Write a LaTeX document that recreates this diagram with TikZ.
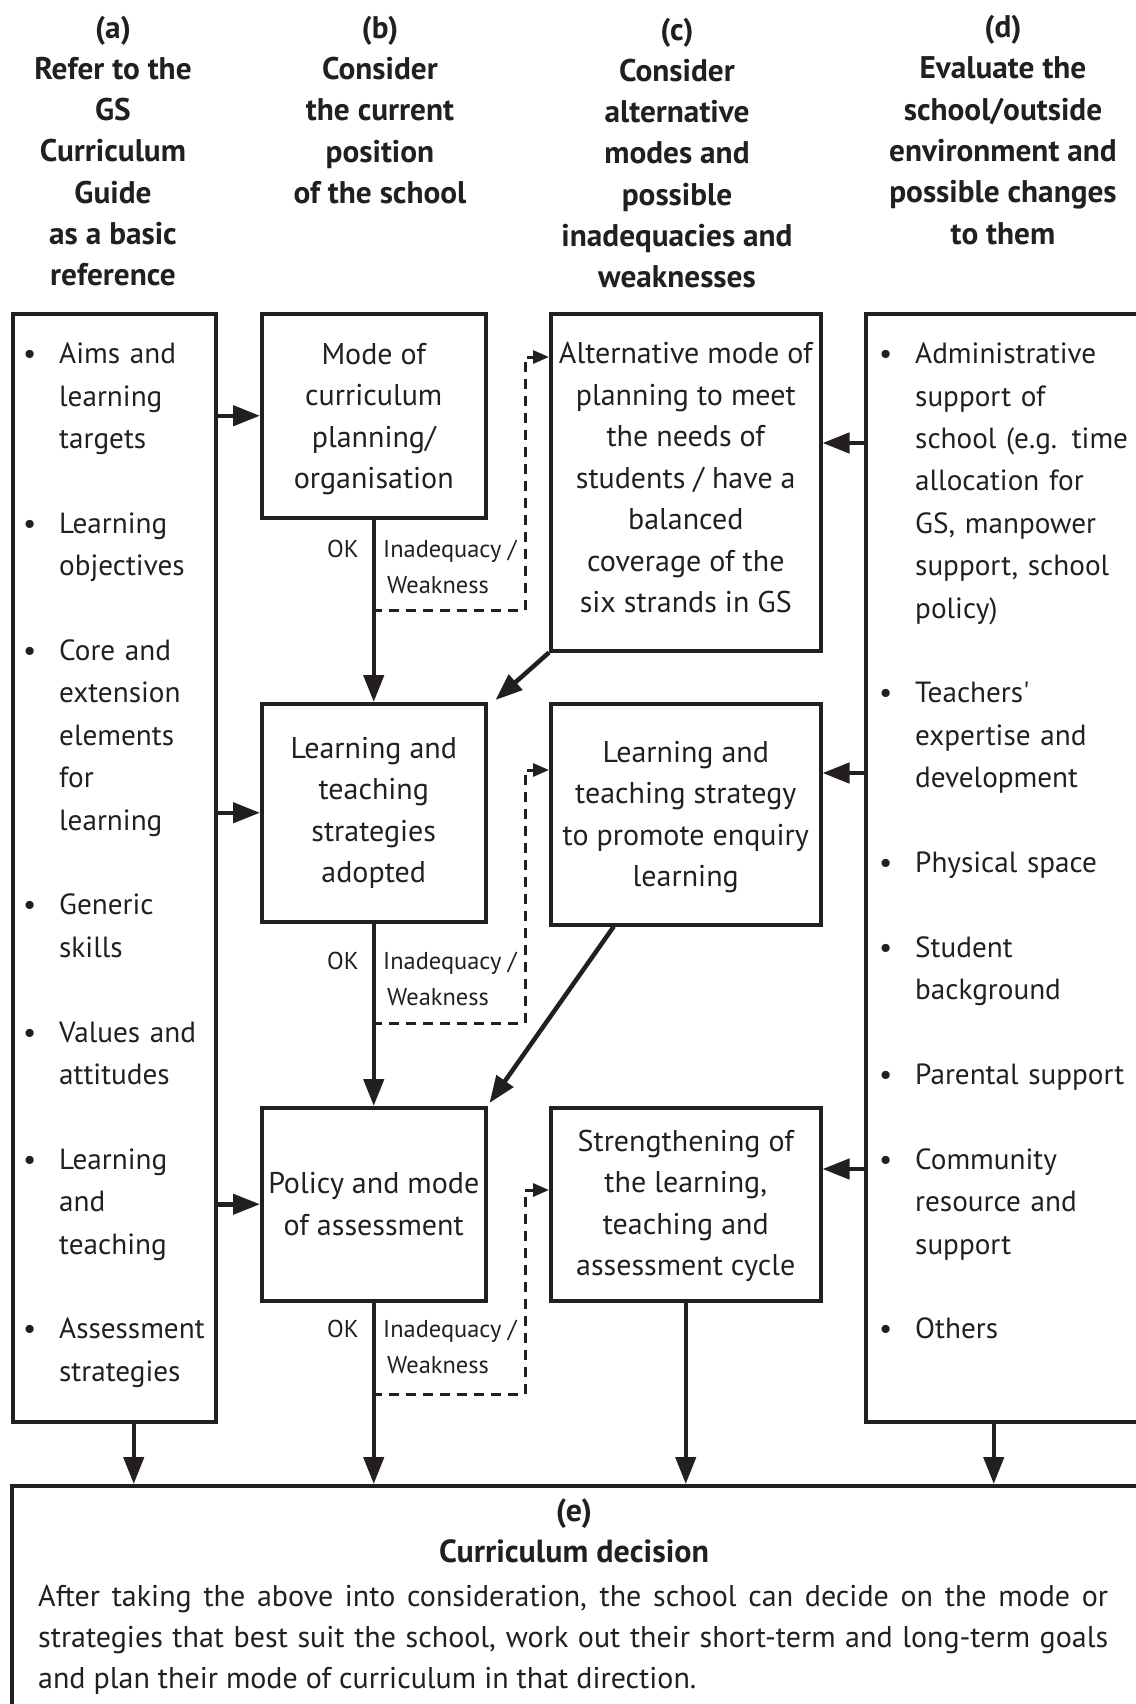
\documentclass[tikz,border=0pt]{standalone}
\usepackage{fontspec}
\setmainfont{PT Sans}
\usetikzlibrary{arrows.meta,calc}
\definecolor{ink}{HTML}{231F20}
\newcommand\fbody{\fontsize{30}{41.5}\selectfont}
\newcommand\flist{\fontsize{29.2}{42.4}\selectfont}
\newcommand\fhead{\bfseries\fontsize{31.3}{41.3}\selectfont}
\newcommand\fehead{\bfseries\fontsize{32}{41.3}\selectfont}
\newcommand\flbl{\fontsize{24.4}{36}\selectfont}
\newcommand\febody{\fontsize{30}{41}\selectfont}
\newcommand\itm[1]{\par\noindent\hangindent=36pt\hangafter=1\strut\makebox[36pt][l]{\textbullet}#1\par}
\newcommand\itemgap{\vskip 42.4pt}
\newcommand\tshift[1]{\rule{0pt}{#1pt}}
\newcommand\tdrop[1]{\rule[-#1pt]{0pt}{0pt}}
\begin{document}
\begin{tikzpicture}[x=1pt,y=-1pt,
  every node/.style={text=ink},
  box/.style={draw=ink, line width=3.5pt, inner sep=0pt, anchor=north west, align=center, font=\fbody},
  frame/.style={draw=ink, line width=3.5pt, inner sep=0pt, anchor=north west},
  head/.style={align=center, inner sep=0pt, font=\fhead, execute at begin node=\strut, execute at end node=\strut},
  listtext/.style={anchor=north west, inner sep=0pt, text width=260pt, font=\flist},
  lbl/.style={font=\flbl, inner sep=0pt},
  arr/.style={draw=ink, line width=4.5pt, -{Triangle[length=27pt,width=20pt]}},
  darr/.style={draw=ink, line width=3pt, dash pattern=on 10pt off 7pt, -{Triangle[length=16pt,width=13pt]}}
]
\useasboundingbox (0,0) rectangle (1135,1704);

% headers
\node[head] (ha) at (113,157) {(a)\\Refer to the\\GS\\Curriculum\\Guide\\as a basic\\reference};
\node[head] (hb) at (380,116) {(b)\\Consider\\the current\\position\\of the school};
\node[head] (hc) at (677,159) {(c)\\Consider\\alternative\\modes and\\possible\\inadequacies and\\weaknesses};
\node[head] (hd) at (1003,136) {(d)\\Evaluate the\\school/outside\\environment and\\possible changes\\to them};

% side frames
\node[frame, minimum width=203pt, minimum height=1108pt] (a) at (11,312) {};
\node[frame, minimum width=278pt, minimum height=1108pt] (d) at (864,312) {};
\node[frame, minimum width=1140pt, minimum height=260pt] (e) at (10,1484) {};

% lists
\node[listtext] (la) at (23,321) {\raggedright\parskip=0pt
\itm{Aims and\newline learning\newline targets}\itemgap
\itm{Learning\newline objectives}\itemgap
\itm{Core and\newline extension\newline elements\newline for\newline learning}\itemgap
\itm{Generic\newline skills}\itemgap
\itm{Values and\newline attitudes}\itemgap
\itm{Learning\newline and\newline teaching}\itemgap
\itm{Assessment\newline strategies}};
\node[listtext] (ld) at (879,321) {\raggedright\parskip=0pt
\itm{Administrative\newline support of\newline school (e.g. time\newline allocation for\newline GS, manpower\newline support, school\newline policy)}\itemgap
\itm{Teachers\textquotesingle\newline expertise and\newline development}\itemgap
\itm{Physical space}\itemgap
\itm{Student\newline background}\itemgap
\itm{Parental support}\itemgap
\itm{Community\newline resource and\newline support}\itemgap
\itm{Others}};

% centre boxes
\node[box, minimum width=224pt, minimum height=204pt] (b1) at (260,312) {\tshift{27.9}Mode of\\curriculum\\planning/\\organisation};
\node[box, minimum width=270pt, minimum height=337pt] (c1) at (549,312) {Alternative mode of\\planning to meet\\the needs of\\students / have a\\balanced\\coverage of the\\six strands in GS\tdrop{9}};
\node[box, minimum width=224pt, minimum height=218pt] (b2) at (260,702) {\tshift{19.3}Learning and\\teaching\\strategies\\adopted};
\node[box, minimum width=270pt, minimum height=221pt] (c2) at (549,702) {\tshift{26.9}Learning and\\teaching strategy\\to promote enquiry\\learning};
\node[box, minimum width=224pt, minimum height=193pt] (b3) at (260,1106) {\tshift{18.4}Policy and mode\\of assessment};
\node[box, minimum width=270pt, minimum height=193pt] (c3) at (549,1106) {\tshift{24.9}Strengthening of\\the learning,\\teaching and\\assessment cycle};

% bottom text
\node[head, font=\fehead] (eh) at (574,1537) {(e)\\Curriculum decision};
\node[anchor=west, inner sep=0pt, align=left, font=\febody, execute at begin node=\strut, execute at end node=\strut] (eb) at (38,1643)
 {\makebox[1070pt][s]{After taking the above into consideration, the school can decide on the mode or}\\
  \makebox[1070pt][s]{strategies that best suit the school, work out their short-term and long-term goals}\\
  and plan their mode of curriculum in that direction.};

% labels
\node[lbl, anchor=base east] (ok1) at (359,557) {OK};
\node[lbl, anchor=base west] (in1) at (383,557) {Inadequacy /};
\node[lbl, anchor=base west] (wk1) at (387,593) {Weakness};
\node[lbl, anchor=base east] (ok2) at (359,969) {OK};
\node[lbl, anchor=base west] (in2) at (383,969) {Inadequacy /};
\node[lbl, anchor=base west] (wk2) at (387,1005) {Weakness};
\node[lbl, anchor=base east] (ok3) at (359,1337) {OK};
\node[lbl, anchor=base west] (in3) at (383,1337) {Inadequacy /};
\node[lbl, anchor=base west] (wk3) at (387,1373) {Weakness};

% coordinates
\coordinate (dy1) at (0,443);
\coordinate (dy2) at (0,773);
\coordinate (dy3) at (0,1169);
\coordinate (j1) at (372,610);  \coordinate (k1) at (525,357);
\coordinate (j2) at (372,1023); \coordinate (k2) at (525,770);
\coordinate (j3) at (372,1394); \coordinate (k3) at (525,1190);
\coordinate (ax) at ([xshift=19.5pt]a.south);
\coordinate (dx) at ([xshift=-11pt]d.south);

% arrows from (a)
\draw[arr] (a.east |- b1) -- (b1);
\draw[arr] (a.east |- b2) -- (b2);
\draw[arr] (a.east |- b3) -- (b3);
% arrows from (d)
\draw[arr] (d.west |- dy1) -- (c1.east |- dy1);
\draw[arr] (d.west |- dy2) -- (c2.east |- dy2);
\draw[arr] (d.west |- dy3) -- (c3.east |- dy3);
% main column
\draw[arr] (b1) -- (b2);
\draw[arr] (b2) -- (b3);
\draw[arr] (b3.south) -- (b3.south |- e.north);
\draw[arr] (c3.south) -- (c3.south |- e.north);
\draw[arr] (ax) -- (ax |- e.north);
\draw[arr] (dx) -- (dx |- e.north);
% diagonals
\draw[arr] (c1.south west) -- ([xshift=8pt,yshift=2pt]b2.north east);
\draw[arr] ([xshift=-72pt]c2.south) -- ([xshift=2pt,yshift=3pt]b3.north east);
% dashed feedback
\draw[darr] (j1) -| (k1) -- (k1 -| c1.west);
\draw[darr] (j2) -| (k2) -- (k2 -| c2.west);
\draw[darr] (j3) -| (k3) -- (k3 -| c3.west);
\end{tikzpicture}
\end{document}
